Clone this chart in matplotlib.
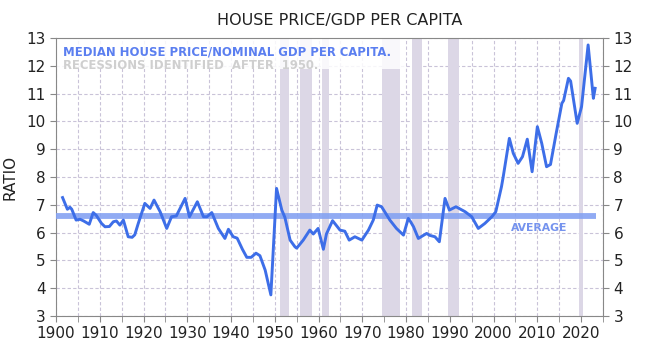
import matplotlib
matplotlib.use("Agg")
import matplotlib.pyplot as plt
from matplotlib.patches import Rectangle

years = [1901.5, 1902.6, 1903.2, 1903.6, 1904.6, 1905.5, 1906.3, 1907.6, 1908.5, 1909.2,
         1910.4, 1911.2, 1912.2, 1913.1, 1913.8, 1914.6, 1915.4, 1916.5, 1917.4, 1918.0,
         1918.8, 1920.3, 1921.5, 1922.4, 1923.8, 1925.3, 1926.4, 1927.5, 1929.5, 1930.5,
         1932.3, 1933.7, 1934.5, 1935.6, 1937.1, 1938.6, 1939.4, 1940.5, 1941.4, 1942.6,
         1943.6, 1944.6, 1945.7, 1946.6, 1947.8, 1949.1, 1950.4, 1951.6, 1952.3, 1953.5,
         1954.6, 1955.0, 1956.5, 1958.0, 1958.8, 1959.9, 1961.1, 1961.8, 1963.2, 1964.9,
         1966.0, 1967.0, 1968.3, 1969.9, 1971.4, 1972.5, 1973.4, 1974.4, 1976.3, 1977.8,
         1979.4, 1980.5, 1981.0, 1981.7, 1982.8, 1984.7, 1985.4, 1986.6, 1987.6, 1988.9,
         1989.9, 1991.4, 1993.5, 1995.0, 1996.5, 1998.0, 1999.6, 2000.5, 2001.8, 2002.2,
         2003.6, 2004.5, 2005.6, 2006.6, 2007.7, 2008.8, 2010.0, 2011.0, 2012.1, 2013.0,
         2014.3, 2015.6, 2016.0, 2017.1, 2017.6, 2019.1, 2020.1, 2021.6, 2022.8, 2023.2]
ratio = [7.26, 6.84, 6.91, 6.84, 6.45, 6.48, 6.42, 6.30, 6.72, 6.62,
         6.33, 6.21, 6.22, 6.39, 6.42, 6.27, 6.45, 5.85, 5.83, 5.92,
         6.33, 7.05, 6.87, 7.17, 6.75, 6.15, 6.57, 6.60, 7.23, 6.57,
         7.11, 6.57, 6.57, 6.72, 6.15, 5.79, 6.12, 5.85, 5.80, 5.40,
         5.11, 5.11, 5.26, 5.17, 4.65, 3.76, 7.59, 6.81, 6.55, 5.73,
         5.49, 5.44, 5.73, 6.09, 5.95, 6.15, 5.40, 5.95, 6.43, 6.09,
         6.05, 5.73, 5.85, 5.73, 6.09, 6.45, 6.99, 6.93, 6.45, 6.15,
         5.91, 6.51, 6.40, 6.21, 5.79, 5.97, 5.90, 5.85, 5.67, 7.23,
         6.81, 6.93, 6.75, 6.57, 6.15, 6.33, 6.57, 6.75, 7.65, 8.01,
         9.39, 8.85, 8.49, 8.73, 9.36, 8.19, 9.81, 9.21, 8.37, 8.45,
         9.57, 10.65, 10.75, 11.55, 11.45, 9.93, 10.53, 12.75, 10.83, 11.19]

average_value = 6.6
recession_starts = [1951.2, 1955.8, 1960.7, 1974.4, 1981.3, 1989.6, 2019.5]
recession_ends = [1953.2, 1958.4, 1962.5, 1978.6, 1983.6, 1992.2, 2020.5]

xtick_labels = [str(y) for y in range(1900, 2021, 10)]
ytick_vals = list(range(3, 14))

fig = plt.figure(figsize=(6.5, 3.59), dpi=100)
ax = fig.add_axes([56/650, 43/359, 547/650, 278/359])
ax.set_xlim(1900, 2025)
ax.set_ylim(3, 13)

for s, e in zip(recession_starts, recession_ends):
    ax.axvspan(s, e, color="#dcd7e6", lw=0, zorder=1)

ax.add_patch(Rectangle((1900, 11.88), 80, 13 - 11.88, facecolor="white",
                       alpha=0.85, lw=0, zorder=2))

ax.grid(True, which="both", color="#c9c3d8", linestyle=(0, (3, 2)), lw=0.8, zorder=0)
ax.set_axisbelow(True)

ax.plot([1900, 2023.5], [average_value, average_value], color="#85a2f2", lw=4.2,
        alpha=0.9, solid_capstyle="butt", zorder=3)
ax.plot(years, ratio, color="#3d6ee8", lw=2.1, zorder=4, solid_joinstyle="round")

ax.text(2004, 6.15, "AVERAGE", color="#7593ee", fontweight="bold", fontsize=7.8,
        va="center", ha="left", zorder=5)
ax.text(1901.7, 12.5, "MEDIAN HOUSE PRICE/NOMINAL GDP PER CAPITA.", color="#5b7ff0",
        fontweight="bold", fontsize=8.4, va="center", ha="left", zorder=5)
ax.text(1901.7, 12.0, "RECESSIONS IDENTIFIED  AFTER  1950.", color="#cfcfcf",
        fontweight="bold", fontsize=8.4, va="center", ha="left", zorder=5)

ax.set_xticks(range(1900, 2021, 10))
ax.set_xticklabels(xtick_labels)
ax.set_xticks(range(1905, 2026, 5), minor=True)
ax.set_yticks(ytick_vals)
ax.tick_params(axis="both", which="both", direction="out", color="#888888",
               length=4, labelsize=11, labelcolor="#222222")
ax.tick_params(axis="y", right=True, labelright=True)
ax.tick_params(axis="x", pad=3)
for sp in ax.spines.values():
    sp.set_color("#888888")

ax.set_ylabel("RATIO", fontsize=11, color="#222222", labelpad=6)
fig.text(339.5/650, 1 - 21/359, "HOUSE PRICE/GDP PER CAPITA", ha="center", va="center",
         fontsize=11.5, color="#222222")

fig.savefig("out.png", dpi=100)
